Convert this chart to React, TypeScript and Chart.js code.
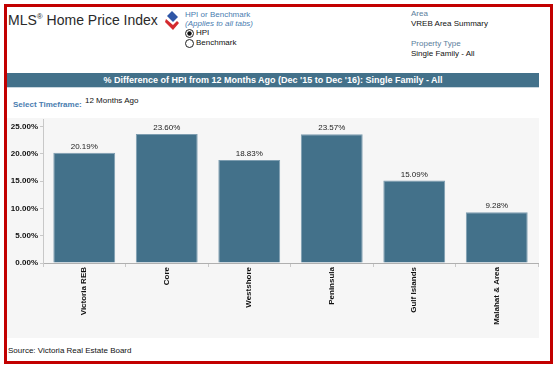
import React, { useEffect, useRef } from "react";
import { Chart, registerables } from "chart.js";

Chart.register(...registerables);

const categories = ["Victoria REB", "Core", "Westshore", "Peninsula", "Gulf Islands", "Malahat & Area"];
const pctChange = [20.19, 23.6, 18.83, 23.57, 15.09, 9.28];
const yTicks = [0, 5, 10, 15, 20, 25];

const FONT = "Arial, 'Liberation Sans', sans-serif";
const BLUE = "#43718a";

const valueLabels = {
  id: "valueLabels",
  afterDatasetsDraw(chart: any) {
    const ctx = chart.ctx;
    const meta = chart.getDatasetMeta(0);
    ctx.save();
    ctx.font = `8px ${FONT}`;
    ctx.fillStyle = "#222";
    ctx.textAlign = "center";
    ctx.textBaseline = "bottom";
    meta.data.forEach((bar: any, i: number) => {
      ctx.fillText(pctChange[i].toFixed(2) + "%", bar.x, bar.y - 2);
    });
    ctx.restore();
  },
};

function BarChart() {
  const ref = useRef<HTMLCanvasElement | null>(null);
  useEffect(() => {
    if (!ref.current) return;
    const chart = new Chart(ref.current, {
      type: "bar",
      data: {
        labels: categories,
        datasets: [
          {
            data: pctChange,
            backgroundColor: BLUE,
            borderColor: "#7d9db0",
            borderWidth: 1,
            barPercentage: 0.75,
            categoryPercentage: 1,
          },
        ],
      },
      options: {
        animation: false,
        responsive: false,
        maintainAspectRatio: false,
        layout: { padding: { left: 0, right: 1, top: 0, bottom: 0 } },
        plugins: { legend: { display: false }, tooltip: { enabled: false } },
        scales: {
          x: {
            grid: { display: true, drawOnChartArea: false, offset: true, tickLength: 4, color: "#c8c8c8" },
            border: { display: true, color: "#b0b0b0" },
            ticks: {
              maxRotation: 90,
              minRotation: 90,
              autoSkip: false,
              padding: 0,
              color: "#111",
              font: { family: FONT, size: 8, weight: "bold" },
            },
            afterFit(scale: any) {
              scale.height = 75;
            },
          },
          y: {
            min: 0,
            max: 26.2,
            grid: { display: true, drawOnChartArea: false, tickLength: 3, color: "#c8c8c8" },
            border: { display: true, color: "#c8c8c8" },
            ticks: {
              padding: 2,
              color: "#111",
              font: { family: FONT, size: 8, weight: "bold" },
              callback: (v: any) => Number(v).toFixed(2) + "%",
            },
            afterBuildTicks(scale: any) {
              scale.ticks = yTicks.map((v) => ({ value: v }));
            },
            afterFit(scale: any) {
              scale.width = 36;
            },
          },
        },
      },
      plugins: [valueLabels],
    });
    return () => chart.destroy();
  }, []);
  return <canvas ref={ref} width={532} height={225} style={{ display: "block" }} />;
}

const abs = (left: number, top: number, extra: any = {}) => ({
  position: "absolute" as const,
  left,
  top,
  whiteSpace: "nowrap" as const,
  ...extra,
});

function Radio({ checked }: { checked: boolean }) {
  return (
    <svg width={9} height={9} style={{ display: "block" }}>
      <circle cx={4.5} cy={4.5} r={4} fill="#fff" stroke="#222" strokeWidth={1} />
      {checked && <circle cx={4.5} cy={4.5} r={2.2} fill="#111" />}
    </svg>
  );
}

export default function App() {
  const small = { fontFamily: FONT, fontSize: 8, lineHeight: "10px" };
  return (
    <div style={{ position: "absolute", left: 0, top: 0, width: 560, height: 372, background: "#fff", overflow: "hidden" }}>
      <div
        style={{
          position: "absolute",
          left: 4,
          top: 4,
          width: 543,
          height: 354,
          border: "3px solid #c20000",
        }}
      />
      <div style={abs(8, 12, { fontFamily: FONT, fontSize: 14, color: "#2a2a2a", lineHeight: "17px" })}>
        MLS<sup style={{ fontSize: 8, verticalAlign: "top", lineHeight: "10px" }}>®</sup> Home Price Index
      </div>
      <svg style={abs(165, 11)} width={15} height={19}>
        <polygon points="7,0 13,6 8,11 2,5" fill="#2f56a6" />
        <polygon points="1,8 8,14 12,10 14,12 8,19 0,11" fill="#d42a2f" />
      </svg>
      <div style={abs(185, 10, { ...small, color: "#4a7db0" })}>HPI or Benchmark</div>
      <div style={abs(185, 19, { ...small, color: "#4a7db0", fontStyle: "italic" })}>(Applies to all tabs)</div>
      <div style={abs(185, 29)}>
        <Radio checked={true} />
      </div>
      <div style={abs(196, 28, { ...small, color: "#111" })}>HPI</div>
      <div style={abs(185, 39)}>
        <Radio checked={false} />
      </div>
      <div style={abs(196, 38, { ...small, color: "#111" })}>Benchmark</div>

      <div style={abs(411, 9, { ...small, color: "#5b7e9c" })}>Area</div>
      <div style={abs(411, 19, { ...small, color: "#111" })}>VREB Area Summary</div>
      <div style={abs(411, 39, { ...small, color: "#5b7e9c" })}>Property Type</div>
      <div style={abs(411, 49, { ...small, color: "#111" })}>Single Family - All</div>

      <div
        style={abs(7, 73, {
          width: 532,
          height: 14,
          background: "#43718a",
          borderBottom: "1px solid #c9d6de",
          color: "#fff",
          fontFamily: FONT,
          fontSize: 9,
          fontWeight: "bold",
          lineHeight: "14px",
          textAlign: "center",
        })}
      >
        % Difference of HPI from 12 Months Ago (Dec '15 to Dec '16): Single Family - All
      </div>

      <div style={abs(13, 100, { ...small, color: "#4a7db0", fontWeight: "bold" })}>Select Timeframe:</div>
      <div style={abs(85, 96, { ...small, color: "#111" })}>12 Months Ago</div>

      <div style={abs(7, 118, { width: 532, height: 220, background: "#f6f6f6" })} />
      <div style={abs(7, 113)}>
        <BarChart />
      </div>

      <div style={abs(8, 346, { ...small, color: "#111" })}>Source: Victoria Real Estate Board</div>
    </div>
  );
}
